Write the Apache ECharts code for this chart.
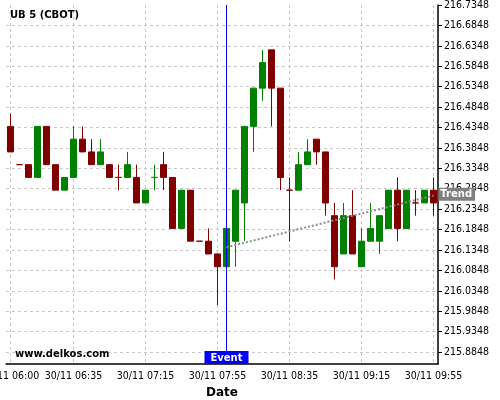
<!DOCTYPE html>
<html><head><meta charset="utf-8">
<script src="https://cdn.jsdelivr.net/npm/echarts@6/dist/echarts.min.js"></script>
<style>html,body{margin:0;padding:0;background:#fff}#c{width:500px;height:400px}</style>
</head><body><div id="c"></div>
<script>
const times = ['30/11 06:00','30/11 06:05','30/11 06:10','30/11 06:15','30/11 06:20','30/11 06:25','30/11 06:30','30/11 06:35','30/11 06:40','30/11 06:45','30/11 06:50','30/11 06:55',
'30/11 07:00','30/11 07:05','30/11 07:10','30/11 07:15','30/11 07:20','30/11 07:25','30/11 07:30','30/11 07:35','30/11 07:40','30/11 07:45','30/11 07:50','30/11 07:55',
'30/11 08:00','30/11 08:05','30/11 08:10','30/11 08:15','30/11 08:20','30/11 08:25','30/11 08:30','30/11 08:35','30/11 08:40','30/11 08:45','30/11 08:50','30/11 08:55',
'30/11 09:00','30/11 09:05','30/11 09:10','30/11 09:15','30/11 09:20','30/11 09:25','30/11 09:30','30/11 09:35','30/11 09:40','30/11 09:45','30/11 09:50','30/11 09:55'];
const open = [216.4375,216.34375,216.34375,216.3125,216.4375,216.34375,216.28125,216.3125,216.40625,216.375,216.34375,216.34375,
216.3125,216.3125,216.3125,216.25,216.3125,216.34375,216.3125,216.1875,216.28125,216.15625,216.15625,216.125,
216.09375,216.15625,216.25,216.4375,216.53125,216.625,216.53125,216.28125,216.28125,216.34375,216.40625,216.375,
216.21875,216.125,216.21875,216.09375,216.15625,216.15625,216.1875,216.28125,216.1875,216.25,216.25,216.28125];
const close = [216.375,216.34375,216.3125,216.4375,216.34375,216.28125,216.3125,216.40625,216.375,216.34375,216.375,216.3125,
216.3125,216.34375,216.25,216.28125,216.3125,216.3125,216.1875,216.28125,216.15625,216.15625,216.125,216.09375,
216.1875,216.28125,216.4375,216.53125,216.59375,216.53125,216.3125,216.28125,216.34375,216.375,216.375,216.25,
216.09375,216.21875,216.125,216.15625,216.1875,216.21875,216.28125,216.1875,216.28125,216.25,216.28125,216.25];
const low = [216.375,216.34375,216.3125,216.3125,216.34375,216.28125,216.28125,216.3125,216.375,216.34375,216.34375,216.3125,
216.28125,216.3125,216.25,216.25,216.28125,216.28125,216.1875,216.1875,216.15625,216.15625,216.125,216.0,
216.09375,216.09375,216.15625,216.375,216.5,216.4375,216.28125,216.15625,216.28125,216.34375,216.34375,216.21875,
216.0625,216.125,216.125,216.09375,216.15625,216.125,216.1875,216.15625,216.1875,216.21875,216.25,216.21875];
const high = [216.46875,216.34375,216.34375,216.4375,216.4375,216.34375,216.3125,216.4375,216.4375,216.40625,216.40625,216.34375,
216.34375,216.375,216.34375,216.28125,216.34375,216.375,216.3125,216.28125,216.28125,216.15625,216.1875,216.125,
216.1875,216.28125,216.4375,216.53125,216.625,216.625,216.53125,216.3125,216.375,216.40625,216.40625,216.375,
216.25,216.25,216.28125,216.1875,216.25,216.21875,216.28125,216.3125,216.28125,216.28125,216.28125,216.3125];
const yTickLabels = ['215.8848','215.9348','215.9848','216.0348','216.0848','216.1348','216.1848','216.2348','216.2848',
'216.3348','216.3848','216.4348','216.4848','216.5348','216.5848','216.6348','216.6848','216.7348'];
const xLabelTimes = ['30/11 06:00','30/11 06:35','30/11 07:15','30/11 07:55','30/11 08:35','30/11 09:15','30/11 09:55'];
const xTickTimes = ['30/11 06:00','30/11 06:10','30/11 06:20','30/11 06:25','30/11 06:35','30/11 06:45','30/11 06:55','30/11 07:05','30/11 07:15',
'30/11 07:25','30/11 07:35','30/11 07:45','30/11 07:55','30/11 08:05','30/11 08:15','30/11 08:25','30/11 08:35','30/11 08:45','30/11 08:55',
'30/11 09:05','30/11 09:15','30/11 09:25','30/11 09:35','30/11 09:45','30/11 09:55'];
const eventTime = '30/11 08:00';
const trendStartTime = '30/11 08:00', trendEndTime = '30/11 09:55';
const trendStart = 216.1415, trendEnd = 216.2680;
const yMin = 215.8554, yMax = 216.7349;

const UP = '#008000', DOWN = '#800000';
const labelIdx = xLabelTimes.map(t => times.indexOf(t));
const tickIdx = xTickTimes.map(t => times.indexOf(t));
const yTicks = yTickLabels.map(Number);

const candles = times.map((t, i) => {
  let up;
  if (close[i] > open[i]) up = true;
  else if (close[i] < open[i]) up = false;
  else up = i > 0 && close[i] > close[i - 1];
  const c = up ? UP : DOWN;
  return { value: [open[i], close[i], low[i], high[i]],
    itemStyle: { color: c, color0: c, borderColor: c, borderColor0: c } };
});

const axisFont = { fontFamily: 'DejaVu Sans Condensed', fontSize: 10.5, color: '#000' };
const chart = echarts.init(document.getElementById('c'), null, { renderer: 'canvas' });
chart.setOption({
  animation: false,
  backgroundColor: '#fff',
  title: [
    { text: 'UB 5 (CBOT)', left: 10, top: 10, padding: 0,
      textStyle: { fontFamily: 'DejaVu Sans', fontWeight: 'bold', fontSize: 10, color: '#000' } },
    { text: 'www.delkos.com', left: 15, top: 349, padding: 0,
      textStyle: { fontFamily: 'DejaVu Sans', fontWeight: 'bold', fontSize: 10, color: '#000' } }
  ],
  grid: { left: 6, right: 62, top: 5, bottom: 36, containLabel: false, outerBoundsMode: 'none' },
  xAxis: {
    type: 'category', data: times, boundaryGap: true,
    name: 'Date', nameLocation: 'middle', nameGap: 18,
    nameTextStyle: { fontFamily: 'DejaVu Sans', fontWeight: 'bold', fontSize: 12, color: '#000' },
    axisLine: { lineStyle: { color: '#000', width: 1.5 } },
    axisTick: { alignWithLabel: true, length: 4, interval: (i) => tickIdx.includes(i), lineStyle: { color: '#000' } },
    axisLabel: Object.assign({ interval: (i) => labelIdx.includes(i), margin: 7 }, axisFont),
    splitLine: { show: true, alignWithLabel: true, interval: (i) => labelIdx.includes(i),
      lineStyle: { type: [3, 3], color: '#c8c8c8', width: 1 } }
  },
  yAxis: {
    type: 'value', position: 'right', min: yMin, max: yMax, scale: true,
    axisLine: { show: true, lineStyle: { color: '#000', width: 1.5 } },
    axisTick: { show: true, length: 4, customValues: yTicks, lineStyle: { color: '#000' } },
    axisLabel: Object.assign({ customValues: yTicks, margin: 6, formatter: (v) => v.toFixed(4) }, axisFont),
    splitLine: { show: true, showMaxLine: false, lineStyle: { type: [3, 3], color: '#c8c8c8', width: 1 } }
  },
  series: [{
    type: 'candlestick', data: candles, barWidth: 6,
    itemStyle: { borderWidth: 1 },
    markLine: {
      silent: true, symbol: ['none', 'none'], animation: false,
      data: [
        { xAxis: eventTime, lineStyle: { color: '#0000ff', width: 1, type: 'solid' }, label: { show: false } },
        [
          { coord: [trendStartTime, trendStart] },
          { coord: [trendEndTime, trendEnd],
            label: { show: true, position: 'end', distance: 5, formatter: 'Trend',
              backgroundColor: '#808080', color: '#fff', fontFamily: 'DejaVu Sans', fontWeight: 'bold',
              fontSize: 10, padding: [2, 3, 1, 2], align: 'left', verticalAlign: 'middle' } }
        ]
      ],
      lineStyle: { color: '#8c8c8c', width: 2, type: [2, 2] }
    },
    markPoint: {
      silent: true, animation: false, symbol: 'rect', symbolSize: 0,
      data: [{ coord: [eventTime, yMin],
        label: { show: true, position: 'top', distance: 0, formatter: 'Event',
          backgroundColor: '#0000ff', color: '#fff', fontFamily: 'DejaVu Sans', fontWeight: 'bold',
          fontSize: 10, padding: [2, 6, 1, 6] } }]
    }
  }]
});
</script></body></html>
